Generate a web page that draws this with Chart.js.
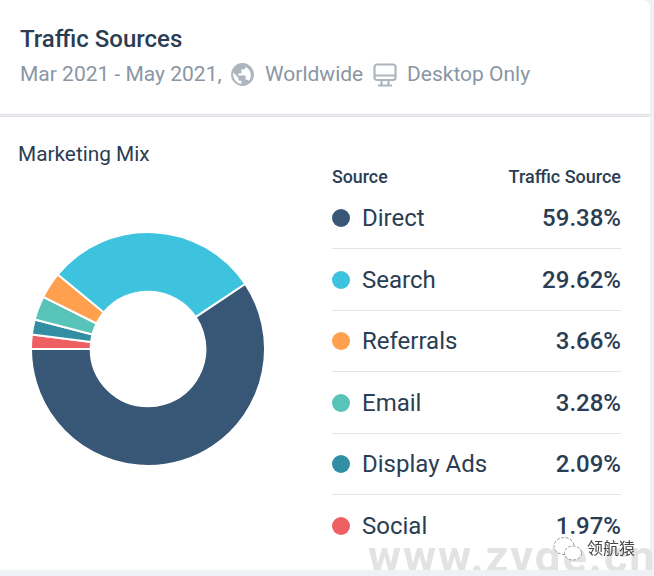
<!DOCTYPE html>
<html>
<head>
<meta charset="utf-8">
<script src="https://cdn.jsdelivr.net/npm/chart.js@4/dist/chart.umd.min.js"></script>
<style>
html, body { margin: 0; padding: 0; }
body { width: 654px; height: 576px; background: #eef2f7; position: relative; overflow: hidden; font-family: Roboto, sans-serif; color: #2b3d52; }
.card { position: absolute; background: #fff; left: 0; width: 650px; }
#head { top: 0; height: 114px; border-bottom: 1px solid #dfe1e4; border-top-right-radius: 8px; }
#body { top: 116px; height: 453px; border-top: 1px solid #dfe1e4; }
.t { position: absolute; white-space: nowrap; line-height: 1; }
#chartBox { position: absolute; left: 30px; top: 231px; width: 236px; height: 236px; }
.dot { position: absolute; left: 332px; width: 18px; height: 18px; border-radius: 50%; }
.rule { position: absolute; left: 332px; width: 289px; height: 1px; background: #e3e5e8; }
#mark { position: absolute; left: 0; top: 0; width: 654px; height: 570px; overflow: hidden; }
svg { position: absolute; }
</style>
</head>
<body>
<div class="card" id="head"></div>
<div class="card" id="body"></div>

<div class="t" style="left:20px;top:27px;font-size:24px;font-weight:500;">Traffic Sources</div>
<div class="t" style="left:20px;top:64px;font-size:21px;color:#8a96a3;">Mar 2021 - May 2021,</div>
<svg style="left:230px;top:62px" width="25" height="25" viewBox="0 0 24 24"><path fill="#adb6bf" d="M12 1a11 11 0 1 0 0 22 11 11 0 0 0 0-22zm-1 19.900A9 9 0 0 1 3.200 10L8 15v1c0 1.100.9 2 2 2h1zm7-2.600a2 2 0 0 0-2-1.300h-1v-3c0-.6-.4-1-1-1H8v-2h2c.6 0 1-.4 1-1V7h2c1.100 0 2-.9 2-2v-.4a9 9 0 0 1 3 13.700z"/></svg>
<div class="t" style="left:265px;top:64px;font-size:21px;color:#8a96a3;">Worldwide</div>
<svg style="left:373px;top:63px" width="24" height="24" viewBox="0 0 24 24"><rect x="1.500" y="1.500" width="21" height="15.500" rx="2.500" fill="none" stroke="#adb6bf" stroke-width="2.200"/><path fill="none" stroke="#adb6bf" stroke-width="2.200" d="M2 12.500h20M8.500 17v5M15.500 17v5M5 22.500h14"/></svg>
<div class="t" style="left:407px;top:64px;font-size:21px;color:#8a96a3;">Desktop Only</div>

<div class="t" style="left:18px;top:144px;font-size:20.800px;">Marketing Mix</div>
<div class="t" style="left:332px;top:168px;font-size:17.800px;font-weight:500;">Source</div>
<div class="t" style="right:33px;top:168px;font-size:18px;font-weight:500;">Traffic Source</div>

<div id="chartBox"><canvas id="mychart"></canvas></div>
<div id="table"></div>

<div id="mark">
	<div class="t" style="left:368px;top:534px;font-size:45px;font-weight:700;color:#e3e3e3;letter-spacing:2px;">www.zvge.cn</div>
</div>
<svg style="left:552px;top:536px" width="32" height="26" viewBox="0 0 32 26"><g fill="#fff" stroke="#999" stroke-width="1" stroke-dasharray="3 1.500"><ellipse cx="12" cy="10" rx="10" ry="8.500"/><ellipse cx="21" cy="17" rx="8.500" ry="7"/></g></svg>
<div class="t" style="left:587px;top:539px;font-size:16px;color:#444;font-family:'Noto Sans CJK SC';">领航猿</div>

<script>
var categories = ["Direct", "Search", "Referrals", "Email", "Display Ads", "Social"];
var shares = [59.38, 29.62, 3.66, 3.28, 2.09, 1.97];
var colors = ["#385675", "#3ec3de", "#ffa04f", "#58c4b9", "#328fa3", "#ee5f63"];
var rowTops = [218, 280, 341, 403, 464, 526];
var ruleTops = [248, 310, 371, 433, 494];

// table rows next to the chart
var table = document.getElementById("table");
for (var i = 0; i < categories.length; i++) {
	var y = rowTops[i];
	table.innerHTML +=
		"<span class='dot' style='top:" + (y - 9) + "px;background:" + colors[i] + "'></span>" +
		"<div class='t' style='left:362px;top:" + (y - 12) + "px;font-size:24px'>" + categories[i] + "</div>" +
		"<div class='t' style='right:33px;top:" + (y - 12) + "px;font-size:24px;font-weight:500'>" + shares[i].toFixed(2) + "%</div>";
}
for (var j = 0; j < ruleTops.length; j++) {
	table.innerHTML += "<div class='rule' style='top:" + ruleTops[j] + "px'></div>";
}

// the slices run clockwise from 9 o'clock, smallest first
new Chart(document.getElementById("mychart"), {
	type: "doughnut",
	data: {
		labels: categories.slice().reverse(),
		datasets: [{
			data: shares.slice().reverse(),
			backgroundColor: colors.slice().reverse(),
			borderColor: "#fff",
			borderWidth: 2
		}]
	},
	options: {
		responsive: true,
		maintainAspectRatio: false,
		animation: false,
		rotation: 270,
		cutout: "49%",
		plugins: {
			legend: { display: false },
			tooltip: { enabled: false }
		}
	}
});
</script>
</body>
</html>
